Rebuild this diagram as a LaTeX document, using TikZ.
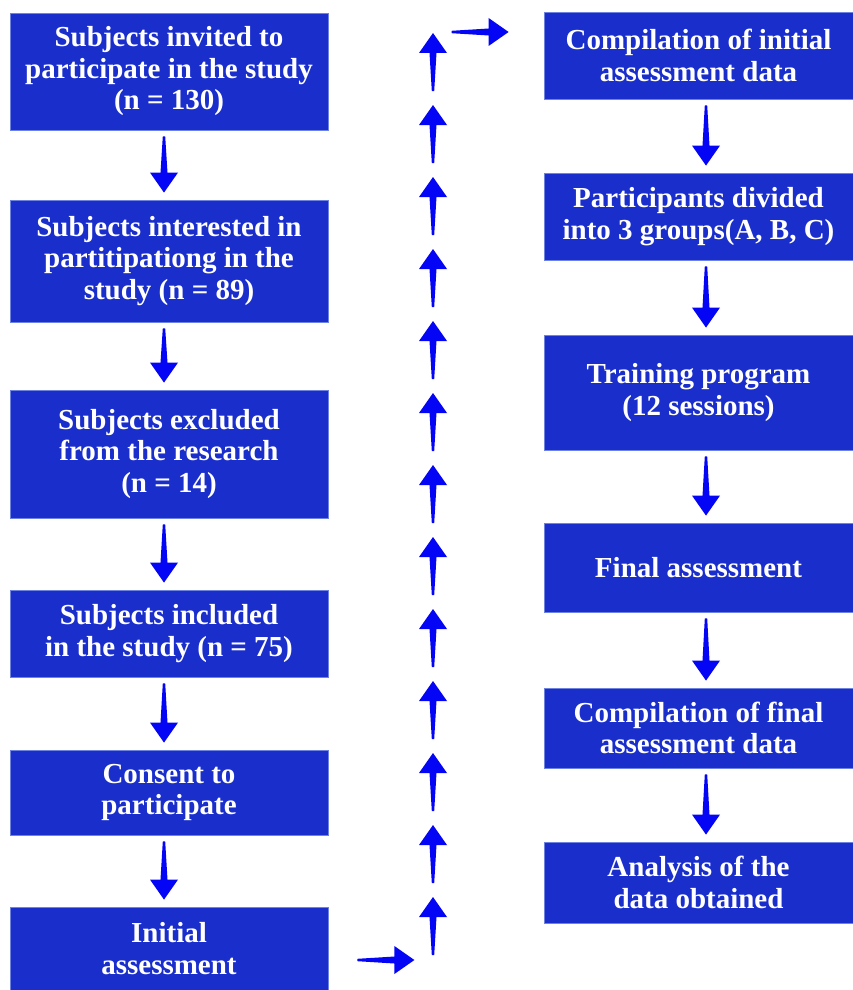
\documentclass[tikz,border=0pt]{standalone}
\usepackage{fontspec}
\setmainfont{Liberation Serif}
\usetikzlibrary{calc}
\definecolor{boxblue}{RGB}{26,46,204}
\definecolor{boxedge}{RGB}{110,130,225}
\definecolor{arrowcol}{RGB}{5,5,245}
\newcommand\fatarrow[2]{%
  \path (#1) coordinate (fatail) (#2) coordinate (fatip);
  \path ($(fatip)!20pt!(fatail)$) coordinate (fahead);
  \fill[arrowfill] ($(fatail)!1.2pt!90:(fatip)$) -- ($(fahead)!3.5pt!90:(fatip)$)
    -- ($(fahead)!14pt!90:(fatip)$) -- (fatip) -- ($(fahead)!14pt!-90:(fatip)$)
    -- ($(fahead)!3.5pt!-90:(fatip)$) -- ($(fatail)!1.2pt!-90:(fatip)$) -- cycle;}
\begin{document}
\begin{tikzpicture}[x=1pt,y=-1pt,
  box/.style={fill=boxblue, draw=boxedge, line width=0.8pt, text=white,
    font=\bfseries\fontsize{29}{31.5}\selectfont, align=center, inner sep=0pt},
  lbox/.style={box, minimum width=318pt},
  rbox/.style={box, minimum width=309pt},
  arrowfill/.style={fill=arrowcol}]
\useasboundingbox (0,0) rectangle (853,990);
% left column
\node[lbox, minimum height=117pt] (L1) at (169,71.5) {Subjects invited to\\participate in the study\\(n = 130)};
\node[lbox, minimum height=122pt] (L2) at (169,261) {Subjects interested in\\partitipationg in the\\study (n = 89)};
\node[lbox, minimum height=128pt] (L3) at (169,454) {Subjects excluded\\from the research\\(n = 14)};
\node[lbox, minimum height=87pt] (L4) at (169,633.5) {Subjects included\\in the study (n = 75)};
\node[lbox, minimum height=85pt] (L5) at (169,792.5) {Consent to\\participate};
\node[lbox, minimum height=83pt] (L6) at (169,948.5) {Initial\\assessment};
% right column
\node[rbox, minimum height=87pt] (R1) at (698.5,55.5) {Compilation of initial\\assessment data};
\node[rbox, minimum height=87pt] (R2) at (698.5,216.5) {Participants divided\\into 3 groups(A, B, C)};
\node[rbox, minimum height=115pt] (R3) at (698.5,392.5) {Training program\\(12 sessions)};
\node[rbox, minimum height=89pt] (R4) at (698.5,567.5) {Final assessment};
\node[rbox, minimum height=80pt] (R5) at (698.5,728) {Compilation of final\\assessment data};
\node[rbox, minimum height=81pt] (R6) at (698.5,882.5) {Analysis of the\\data obtained};
% left down arrows
\foreach \a/\b in {L1/L2,L2/L3,L3/L4,L4/L5,L5/L6}{
  \coordinate (s) at ($(\a.south)+(-5,6)$);
  \coordinate (e) at ($(\b.north)+(-5,-7)$);
  \fatarrow{s}{e}
}
% right down arrows
\foreach \a/\b in {R1/R2,R2/R3,R3/R4,R4/R5,R5/R6}{
  \coordinate (s) at ($(\a.south)+(7.5,6)$);
  \coordinate (e) at ($(\b.north)+(7.5,-7)$);
  \fatarrow{s}{e}
}
% bottom horizontal arrow
\coordinate (hbs) at ($(L6.east|-0,960)+(29,0)$);
\coordinate (hbe) at ($(L6.east|-0,960)+(86,0)$);
\fatarrow{hbs}{hbe}
% middle column of up arrows
\foreach \k in {0,...,12}{
  \coordinate (us) at (433,{91+72*\k});
  \coordinate (ue) at (433,{33+72*\k});
  \fatarrow{us}{ue}
}
% top horizontal arrow
\coordinate (hts) at ($(R1.west|-0,32)+(-92,0)$);
\coordinate (hte) at ($(R1.west|-0,32)+(-35,0)$);
\fatarrow{hts}{hte}
\end{tikzpicture}
\end{document}
